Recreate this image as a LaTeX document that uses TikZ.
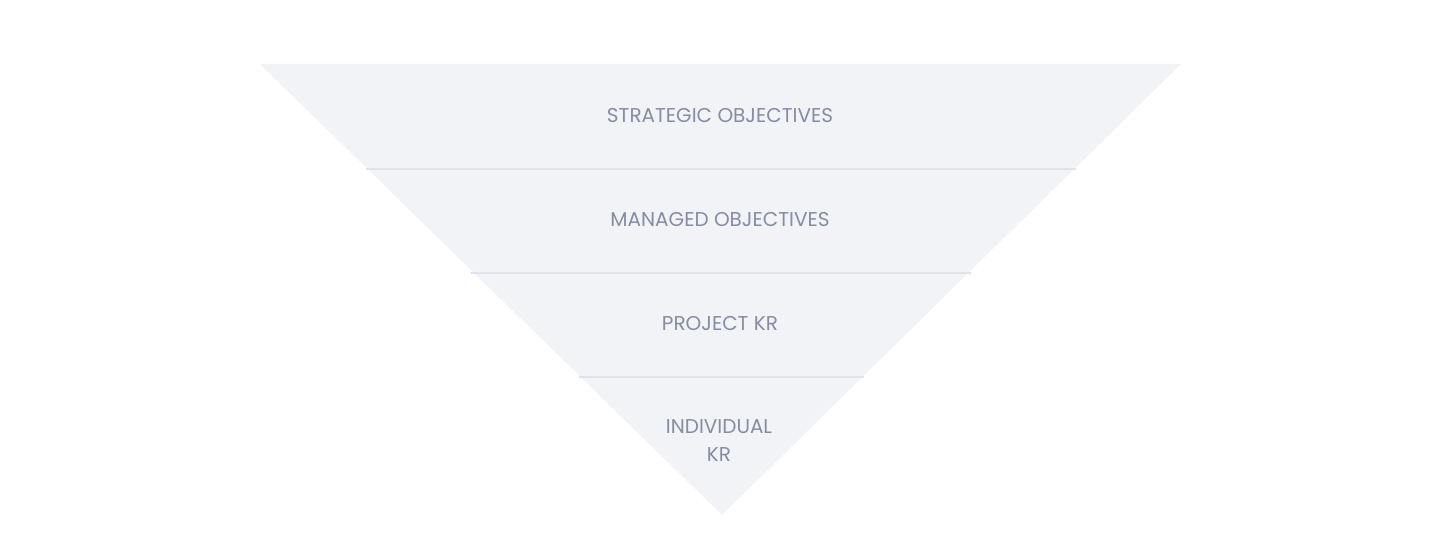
\documentclass[tikz,border=0pt]{standalone}
\usepackage{fontspec}
\setmainfont{Poppins}
\definecolor{tierfill}{HTML}{F2F3F7}
\definecolor{tierline}{HTML}{E0E2E9}
\definecolor{tiertext}{HTML}{868CA2}
\begin{document}
\begin{tikzpicture}
  [x=0.75pt,y=-0.75pt,every node/.style={text=tiertext,font=\fontsize{15}{21}\selectfont,align=center}]
  \useasboundingbox (0,0) rectangle (1440,555);
  \coordinate (tl) at (260,64);
  \coordinate (tr) at (1181,64);
  \coordinate (ap) at (722,515);
  \fill[tierfill] (tl) -- (tr) -- (ap) -- cycle;
  \coordinate (l1) at (366,169);
  \coordinate (r1) at (1076,169);
  \coordinate (l2) at (471,273);
  \coordinate (r2) at (971,273);
  \coordinate (l3) at (579,377);
  \coordinate (r3) at (864,377);

  \foreach \from/\to in {l1/r1,l2/r2,l3/r3}
    \draw[tierline,line width=1.5pt] (\from) -- (\to);

  \node (strat) at (720,116) {STRATEGIC OBJECTIVES};
  \node (manag) at (720,220) {MANAGED OBJECTIVES};
  \node (proj) at (720,324) {PROJECT KR};
  \node (indiv) at (719,441) {INDIVIDUAL\\KR};
\end{tikzpicture}
\end{document}
